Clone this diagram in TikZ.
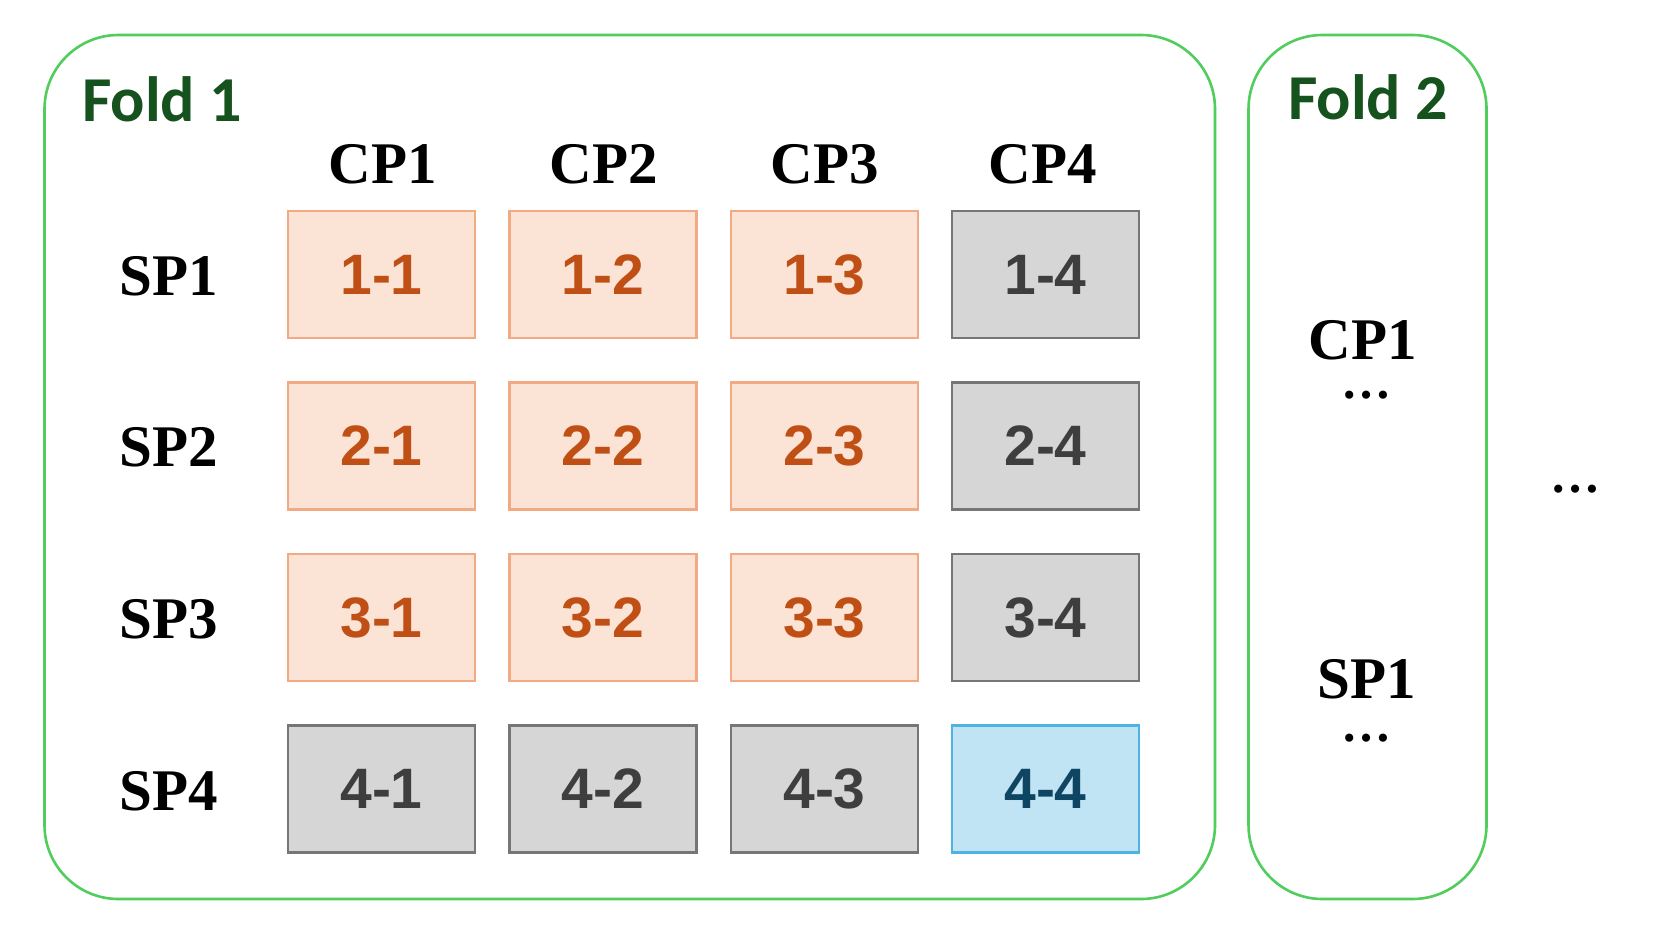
\documentclass[tikz,border=0pt]{standalone}
\usepackage{fontspec}
\setmainfont{Liberation Serif}
\newfontfamily\cellfont{Liberation Sans}
\newfontfamily\foldfont{Carlito}
\definecolor{foldgreen}{RGB}{80,205,92}
\definecolor{foldtext}{RGB}{22,82,30}
\definecolor{orfill}{RGB}{251,227,214}
\definecolor{ordraw}{RGB}{242,170,132}
\definecolor{ortext}{RGB}{192,79,21}
\definecolor{gyfill}{RGB}{214,214,214}
\definecolor{gydraw}{RGB}{118,118,118}
\definecolor{gytext}{RGB}{62,62,62}
\definecolor{blfill}{RGB}{193,228,245}
\definecolor{bldraw}{RGB}{78,178,226}
\definecolor{bltext}{RGB}{14,69,98}
\tikzset{
  x=1pt,y=-1pt,
  cellbox/.style={draw,line width=2.3pt,minimum width=187pt,minimum height=127pt,inner sep=0pt,
    font=\cellfont\fontsize{57}{57}\selectfont\bfseries},
  trainc/.style={cellbox,fill=orfill,draw=ordraw,text=ortext},
  skipc/.style={cellbox,fill=gyfill,draw=gydraw,text=gytext},
  testc/.style={cellbox,fill=blfill,draw=bldraw,text=bltext},
  foldbox/.style={draw=foldgreen,line width=2.6pt,rounded corners=74pt},
  foldlabel/.style={anchor=base,inner sep=0pt,text=foldtext,font=\foldfont\fontsize{64}{64}\selectfont\bfseries},
  headlabel/.style={anchor=base,inner sep=0pt,font=\fontsize{59}{59}\selectfont\bfseries},
  dotslabel/.style={anchor=base,inner sep=0pt,font=\fontsize{50}{50}\selectfont\bfseries},
}
\begin{document}
\begin{tikzpicture}
\useasboundingbox (0,0) rectangle (1661,934);
% fold frames
\draw[foldbox] (44.5,35) rectangle (1215,899);
\draw[foldbox] (1248.5,35) rectangle (1486.5,899);
\node[foldlabel,anchor=base west] (f1) at (82,121) {Fold 1};
\node[foldlabel] (f2) at (1368,119) {Fold 2};
% column headers
\node[headlabel] (cp1) at (383,183) {CP1};
\node[headlabel] (cp2) at (604,183) {CP2};
\node[headlabel] (cp3) at (825,183) {CP3};
\node[headlabel] (cp4) at (1043,183) {CP4};
% row headers
\node[headlabel] (sp1) at (168.5,295) {SP1};
\node[headlabel] (sp2) at (168.5,466.5) {SP2};
\node[headlabel] (sp3) at (168.5,638) {SP3};
\node[headlabel] (sp4) at (168.5,810) {SP4};
% cells
\node[trainc] (c11) at (381.5,274.5) {1-1};
\node[trainc] (c12) at (603,274.5) {1-2};
\node[trainc] (c13) at (824.5,274.5) {1-3};
\node[skipc]  (c14) at (1045.5,274.5) {1-4};
\node[trainc] (c21) at (381.5,446) {2-1};
\node[trainc] (c22) at (603,446) {2-2};
\node[trainc] (c23) at (824.5,446) {2-3};
\node[skipc]  (c24) at (1045.5,446) {2-4};
\node[trainc] (c31) at (381.5,617.5) {3-1};
\node[trainc] (c32) at (603,617.5) {3-2};
\node[trainc] (c33) at (824.5,617.5) {3-3};
\node[skipc]  (c34) at (1045.5,617.5) {3-4};
\node[skipc]  (c41) at (381.5,789) {4-1};
\node[skipc]  (c42) at (603,789) {4-2};
\node[skipc]  (c43) at (824.5,789) {4-3};
\node[testc]  (c44) at (1045.5,789) {4-4};
% fold 2 contents
\node[headlabel] (f2cp) at (1363,359) {CP1};
\node[dotslabel] (f2cpd) at (1366,398) {…};
\node[headlabel] (f2sp) at (1367,698) {SP1};
\node[dotslabel] (f2spd) at (1366,741) {…};
% more folds
\node[dotslabel] (more) at (1575,492) {…};
\end{tikzpicture}
\end{document}
